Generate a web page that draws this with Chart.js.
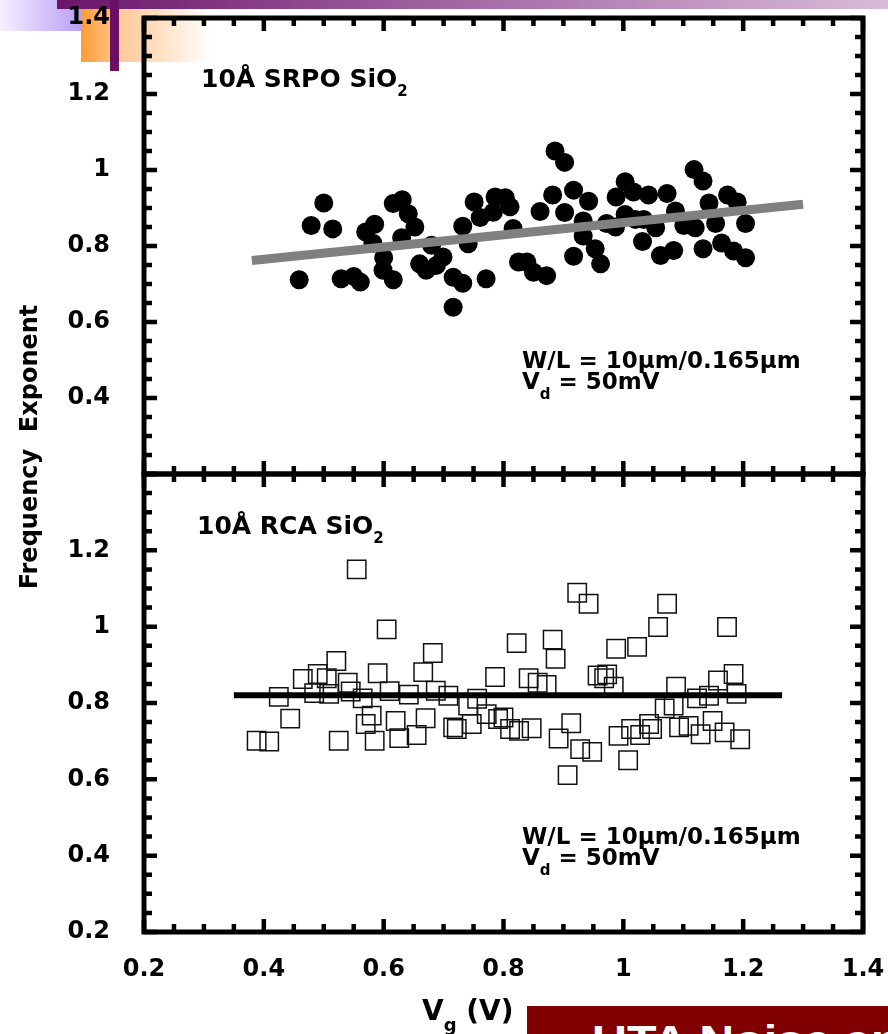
<!DOCTYPE html>
<html>
<head>
<meta charset="utf-8">
<script src="https://cdn.jsdelivr.net/npm/chart.js@4.4.0/dist/chart.umd.min.js"></script>
<style>
  html, body { margin: 0; padding: 0; background: #fff; }
  body { width: 888px; height: 1034px; position: relative; overflow: hidden; }
  canvas { position: absolute; left: 0; top: 0; width: 888px; height: 1034px; }
  .deco { position: absolute; }
  #lav { left: 0; top: 0; width: 82px; height: 31px; background: linear-gradient(to right, #f4f0ff, #b99ef6); }
  #topbar { left: 57px; top: 0; width: 831px; height: 9px; background: linear-gradient(to right, #6a146a, #9a5a9a 40%, #d9bcd9); }
  #orange { left: 81px; top: 9px; width: 130px; height: 53px; background: linear-gradient(to right, #ff9c33, #ffc896 30%, #fff 100%); }
  #vbar { left: 110px; top: 0; width: 9px; height: 71px; background: #6b0f62; z-index: 5; }
  #banner { left: 527px; top: 1006px; width: 361px; height: 28px; background: #800000; overflow: hidden; z-index: 5; }
  #banner span { position: absolute; left: 65px; top: 14px; font: bold 42px/42px "Liberation Sans", Arial, sans-serif; color: #fff; white-space: nowrap; transform: scaleX(1.15); transform-origin: left top; }
</style>
</head>
<body>
<div class="deco" id="lav"></div>
<div class="deco" id="topbar"></div>
<div class="deco" id="orange"></div>
<canvas id="srpoChart" width="888" height="1034"></canvas>
<canvas id="rcaChart" width="888" height="1034"></canvas>
<div class="deco" id="vbar"></div>
<div class="deco" id="banner"><span>UTA Noise and</span></div>
<script>
// 10A SRPO SiO2 : gate voltage (V) and frequency exponent
const srpoVg = [0.459, 0.479, 0.500, 0.515, 0.529, 0.550, 0.561, 0.570, 0.585, 0.582, 0.600, 0.599, 0.616, 0.616, 0.631, 0.641, 0.652, 0.630, 0.660, 0.671,
  0.680, 0.699, 0.688, 0.716, 0.732, 0.716, 0.732, 0.741, 0.751, 0.761, 0.771, 0.783, 0.786, 0.803, 0.811, 0.816, 0.825, 0.839, 0.850, 0.872,
  0.861, 0.882, 0.886, 0.902, 0.902, 0.917, 0.942, 0.933, 0.933, 0.917, 0.953, 0.962, 0.972, 0.987, 0.988, 1.003, 1.017, 1.003, 1.020, 1.042,
  1.034, 1.054, 1.073, 1.087, 1.032, 1.062, 1.084, 1.101, 1.120, 1.118, 1.133, 1.143, 1.154, 1.133, 1.164, 1.174, 1.190, 1.184, 1.204, 1.204];
const srpoExp = [0.711, 0.854, 0.913, 0.845, 0.714, 0.720, 0.705, 0.837, 0.857, 0.807, 0.769, 0.736, 0.711, 0.912, 0.922, 0.885, 0.850, 0.822, 0.753, 0.736,
  0.802, 0.771, 0.749, 0.718, 0.702, 0.639, 0.852, 0.806, 0.916, 0.875, 0.714, 0.889, 0.929, 0.927, 0.903, 0.846, 0.758, 0.758, 0.731, 0.722,
  0.891, 0.934, 1.050, 1.020, 0.888, 0.947, 0.918, 0.866, 0.826, 0.773, 0.793, 0.753, 0.859, 0.850, 0.929, 0.969, 0.942, 0.883, 0.870, 0.934,
  0.870, 0.848, 0.938, 0.892, 0.812, 0.775, 0.788, 0.854, 0.848, 1.001, 0.971, 0.913, 0.859, 0.793, 0.808, 0.934, 0.916, 0.787, 0.769, 0.859];
const srpoFitVg = [0.38, 1.30];
const srpoFitExp = [0.762, 0.910];

// 10A RCA SiO2
const rcaVg = [0.388, 0.409, 0.425, 0.444, 0.465, 0.484, 0.490, 0.505, 0.509, 0.521, 0.525, 0.540, 0.545, 0.555, 0.565, 0.570, 0.580, 0.585, 0.590, 0.605,
  0.610, 0.620, 0.626, 0.642, 0.655, 0.666, 0.670, 0.682, 0.687, 0.708, 0.716, 0.722, 0.741, 0.747, 0.756, 0.772, 0.786, 0.791, 0.800, 0.811,
  0.822, 0.826, 0.842, 0.847, 0.857, 0.872, 0.882, 0.887, 0.892, 0.907, 0.913, 0.923, 0.928, 0.942, 0.948, 0.957, 0.968, 0.973, 0.984, 0.988,
  0.992, 1.008, 1.013, 1.023, 1.028, 1.043, 1.048, 1.058, 1.069, 1.073, 1.084, 1.088, 1.093, 1.109, 1.123, 1.129, 1.143, 1.149, 1.158, 1.169,
  1.173, 1.184, 1.189, 1.195];
const rcaExp = [0.701, 0.699, 0.816, 0.759, 0.863, 0.826, 0.876, 0.865, 0.824, 0.910, 0.701, 0.853, 0.830, 1.150, 0.812, 0.745, 0.767, 0.701, 0.878, 0.993,
  0.831, 0.753, 0.708, 0.822, 0.716, 0.881, 0.760, 0.931, 0.832, 0.819, 0.736, 0.732, 0.793, 0.745, 0.811, 0.771, 0.868, 0.758, 0.762, 0.732,
  0.957, 0.727, 0.865, 0.734, 0.853, 0.847, 0.966, 0.916, 0.707, 0.611, 0.747, 1.089, 0.679, 1.060, 0.672, 0.872, 0.865, 0.875, 0.843, 0.942,
  0.714, 0.650, 0.732, 0.947, 0.716, 0.745, 0.732, 0.999, 0.786, 1.060, 0.793, 0.843, 0.736, 0.740, 0.812, 0.718, 0.819, 0.753, 0.859, 0.723,
  0.999, 0.876, 0.824, 0.705];
const rcaFitVg = [0.35, 1.265];
const rcaFitExp = [0.82, 0.82];

const vgTicks = [0.2, 0.4, 0.6, 0.8, 1, 1.2, 1.4];
const expTicksTop = [0.4, 0.6, 0.8, 1, 1.2, 1.4];
const expTicksBottom = [0.2, 0.4, 0.6, 0.8, 1, 1.2];

const FAMILY = '"DejaVu Sans", sans-serif';
const tickFont = { family: FAMILY, size: 24, weight: 'bold' };

const pts = (xs, ys) => xs.map((v, i) => ({ x: v, y: ys[i] }));

// text with subscripts: parts = [text, size, dy]
function drawRich(ctx, x, y, parts) {
  let cx = x;
  parts.forEach(([t, size, dy]) => {
    ctx.font = 'bold ' + size + 'px ' + FAMILY;
    ctx.fillText(t, cx, y + (dy || 0));
    cx += ctx.measureText(t).width;
  });
}

// boxed frame with inward major/minor ticks on all four sides
const framePlugin = {
  id: 'frame',
  afterDatasetsDraw(chart) {
    const { ctx, chartArea: a, scales: { x, y } } = chart;
    ctx.save();
    ctx.strokeStyle = '#000';
    ctx.lineWidth = 4.5;
    for (let i = 0; i <= 24; i++) {
      const v = 0.2 + i * 0.05;
      const len = i % 4 === 0 ? 13 : 8;
      const px = x.getPixelForValue(v);
      const py = y.getPixelForValue(v);
      ctx.beginPath();
      ctx.moveTo(px, a.bottom); ctx.lineTo(px, a.bottom - len);
      ctx.moveTo(px, a.top); ctx.lineTo(px, a.top + len);
      ctx.moveTo(a.left, py); ctx.lineTo(a.left + len, py);
      ctx.moveTo(a.right, py); ctx.lineTo(a.right - len, py);
      ctx.stroke();
    }
    ctx.lineWidth = 5;
    ctx.strokeRect(a.left, a.top, a.right - a.left, a.bottom - a.top);
    ctx.restore();
  }
};

const notesPlugin = {
  id: 'notes',
  afterDraw(chart, args, opts) {
    const ctx = chart.ctx;
    ctx.save();
    ctx.fillStyle = '#000';
    ctx.textBaseline = 'alphabetic';
    ctx.textAlign = 'left';
    (opts.items || []).forEach(n => drawRich(ctx, n.x, n.y, n.parts));
    if (opts.titles) {
      drawRich(ctx, 422, 1020, [['V', 28], ['g', 18, 11], [' (V)', 28]]);
      ctx.translate(37, 447);
      ctx.rotate(-Math.PI / 2);
      ctx.textAlign = 'center';
      ctx.font = 'bold 24px ' + FAMILY;
      ctx.fillText('Frequency  Exponent', 0, 0);
    }
    ctx.restore();
  }
};

function panelOptions(pad, yTicks, showX, notes, titles) {
  return {
    responsive: false,
    animation: false,
    events: [],
    layout: { padding: pad },
    plugins: {
      legend: { display: false },
      tooltip: { enabled: false },
      notes: { items: notes, titles: titles }
    },
    scales: {
      x: {
        type: 'linear', min: 0.2, max: 1.4, display: showX,
        grid: { display: false }, border: { display: false },
        afterBuildTicks: s => { s.ticks = vgTicks.map(v => ({ value: v })); },
        afterFit: s => { s.height = showX ? 62 : 0; s.paddingLeft = 0; s.paddingRight = 0; },
        ticks: { padding: 15, color: '#000', font: tickFont, maxRotation: 0, autoSkip: false, callback: v => String(v) }
      },
      y: {
        type: 'linear', min: 0.2, max: 1.4,
        grid: { display: false }, border: { display: false },
        afterBuildTicks: s => { s.ticks = yTicks.map(v => ({ value: v })); },
        afterFit: s => { s.width = 144; s.paddingTop = 0; s.paddingBottom = 0; },
        ticks: { padding: 26, color: '#000', font: tickFont, autoSkip: false, callback: v => String(v) }
      }
    }
  };
}

const wlNote = ['W/L = 10\u03bcm/0.165\u03bcm', 23];

new Chart(document.getElementById('srpoChart'), {
  type: 'scatter',
  data: {
    datasets: [
      { type: 'line', data: pts(srpoFitVg, srpoFitExp), borderColor: '#808080', borderWidth: 9,
        borderCapStyle: 'butt', pointRadius: 0, fill: false },
      { data: pts(srpoVg, srpoExp), pointStyle: 'circle', pointRadius: 9.5,
        backgroundColor: '#000', borderColor: '#000', borderWidth: 0 }
    ]
  },
  options: panelOptions({ left: 0, right: 25, top: 18, bottom: 560 }, expTicksTop, false, [
    { x: 201, y: 87, parts: [['10\u00c5 SRPO SiO', 25], ['2', 15, 9]] },
    { x: 522, y: 368, parts: [wlNote] },
    { x: 522, y: 389, parts: [['V', 23], ['d', 15, 10], [' = 50mV', 23]] }
  ], false),
  plugins: [framePlugin, notesPlugin]
});

new Chart(document.getElementById('rcaChart'), {
  type: 'scatter',
  data: {
    datasets: [
      { type: 'line', data: pts(rcaFitVg, rcaFitExp), borderColor: '#000', borderWidth: 6,
        borderCapStyle: 'butt', pointRadius: 0, fill: false },
      { data: pts(rcaVg, rcaExp), pointStyle: 'rect', pointRadius: 13,
        backgroundColor: 'rgba(0,0,0,0)', borderColor: '#111', borderWidth: 1.5 }
    ]
  },
  options: panelOptions({ left: 0, right: 25, top: 474, bottom: 40 }, expTicksBottom, true, [
    { x: 197, y: 534, parts: [['10\u00c5 RCA SiO', 25], ['2', 15, 9]] },
    { x: 522, y: 844, parts: [wlNote] },
    { x: 522, y: 865, parts: [['V', 23], ['d', 15, 10], [' = 50mV', 23]] }
  ], true),
  plugins: [framePlugin, notesPlugin]
});
</script>
</body>
</html>
